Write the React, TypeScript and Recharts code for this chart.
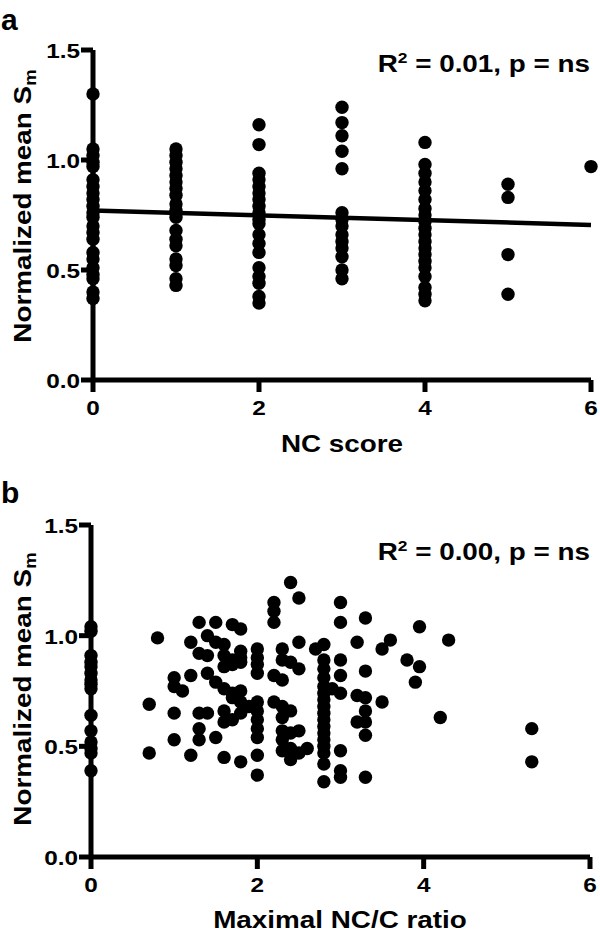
import React from 'react';
import { ScatterChart, Scatter, XAxis, YAxis, ReferenceLine } from 'recharts';

const K = 1.16;
const FONT = '"Liberation Sans", Arial, Helvetica, sans-serif';

// Panel a: NC score groups
const ncScores = [0, 1, 2, 3, 4, 5, 6];
const smNc0 = [1.30, 1.05, 1.02, 0.99, 0.97, 0.91, 0.88, 0.85, 0.82, 0.79, 0.76, 0.74, 0.70, 0.67, 0.64, 0.58, 0.55, 0.51, 0.48, 0.46, 0.40, 0.37];
const smNc1 = [1.05, 1.02, 0.99, 0.96, 0.93, 0.90, 0.87, 0.84, 0.80, 0.77, 0.74, 0.68, 0.64, 0.61, 0.55, 0.52, 0.46, 0.43];
const smNc2 = [1.16, 1.07, 0.94, 0.91, 0.88, 0.85, 0.82, 0.79, 0.76, 0.73, 0.71, 0.66, 0.62, 0.58, 0.51, 0.47, 0.44, 0.38, 0.35];
const smNc3 = [1.24, 1.17, 1.11, 1.04, 0.96, 0.76, 0.73, 0.70, 0.66, 0.63, 0.60, 0.56, 0.50, 0.46];
const smNc4 = [1.08, 0.98, 0.94, 0.90, 0.86, 0.82, 0.78, 0.75, 0.72, 0.69, 0.66, 0.63, 0.60, 0.57, 0.54, 0.51, 0.47, 0.42, 0.39, 0.36];
const smNc5 = [0.89, 0.83, 0.57, 0.39];
const smNc6 = [0.97];
const smByNcScore = [smNc0, smNc1, smNc2, smNc3, smNc4, smNc5, smNc6];
const fitA = [{ x: 0, y: 0.77 }, { x: 6, y: 0.705 }];

// Panel b: maximal NC/C ratio groups [ratio, Sm values]
const ratioGroups: [number, number[]][] = [
  [0, [1.04, 1.02, 0.91, 0.88, 0.86, 0.83, 0.80, 0.78, 0.76, 0.64, 0.57, 0.52, 0.49, 0.47, 0.39]],
  [0.7, [0.69, 0.47]],
  [0.8, [0.99]],
  [1.0, [0.81, 0.77, 0.65, 0.53]],
  [1.1, [0.75]],
  [1.2, [0.97, 0.82, 0.46]],
  [1.3, [1.06, 0.92, 0.65, 0.58, 0.53]],
  [1.4, [1.00, 0.91, 0.83, 0.65]],
  [1.5, [1.06, 0.97, 0.79, 0.54]],
  [1.6, [0.96, 0.91, 0.86, 0.76, 0.66, 0.61, 0.45]],
  [1.7, [1.05, 0.89, 0.87, 0.74, 0.72, 0.62]],
  [1.8, [1.03, 0.93, 0.90, 0.88, 0.75, 0.70, 0.65, 0.43]],
  [1.9, [0.68]],
  [2.0, [0.94, 0.90, 0.87, 0.83, 0.70, 0.66, 0.62, 0.58, 0.54, 0.46, 0.37]],
  [2.2, [1.15, 1.11, 1.06, 0.82, 0.70]],
  [2.3, [0.94, 0.89, 0.80, 0.68, 0.63, 0.57, 0.53, 0.48]],
  [2.4, [1.24, 0.88, 0.66, 0.56, 0.49, 0.44]],
  [2.5, [1.17, 0.97, 0.85, 0.57, 0.47]],
  [2.6, [0.49]],
  [2.7, [0.94]],
  [2.8, [0.96, 0.89, 0.85, 0.81, 0.77, 0.74, 0.71, 0.68, 0.65, 0.62, 0.59, 0.56, 0.53, 0.50, 0.47, 0.42, 0.34]],
  [2.9, [0.76]],
  [3.0, [1.15, 1.06, 0.89, 0.82, 0.74, 0.48, 0.39, 0.36]],
  [3.2, [0.97, 0.73, 0.61]],
  [3.3, [1.08, 0.84, 0.72, 0.66, 0.61, 0.55, 0.36]],
  [3.5, [0.94, 0.70]],
  [3.6, [0.98]],
  [3.8, [0.89]],
  [3.9, [0.79]],
  [3.95, [1.04, 0.86]],
  [4.2, [0.63]],
  [4.3, [0.98]],
  [5.3, [0.58, 0.43]],
];

const xTicks = [0, 2, 4, 6];
const yTicks = [0, 0.5, 1.0, 1.5];

const pointsA = ncScores.flatMap((s, i) => smByNcScore[i].map((v) => ({ x: s, y: v })));
const pointsB = ratioGroups.flatMap(([r, vals]) => vals.map((v) => ({ x: r, y: v })));

const Dot = (props: any) => <circle cx={props.cx} cy={props.cy} r={6.7} fill="#000" />;

const XTick = ({ x, y, payload }: any) => (
  <text transform={`translate(${x},${y + 23}) scale(${K},1)`} textAnchor="middle" fontFamily={FONT} fontWeight="bold" fontSize={21} fill="#000">
    {payload.value}
  </text>
);

const YTick = ({ x, y, payload }: any) => (
  <text transform={`translate(${x},${y + 8}) scale(${K},1)`} textAnchor="end" fontFamily={FONT} fontWeight="bold" fontSize={21} fill="#000">
    {Number(payload.value).toFixed(1)}
  </text>
);

const txt = { fontFamily: FONT, fontWeight: 'bold' as const, fill: '#000' };

const PanelTexts = ({ letter, letterY, titleY, annY, r2 }: any) => (
  <g>
    <text x={1} y={letterY} fontSize={30} {...txt}>{letter}</text>
    <text transform={`translate(31,${titleY}) rotate(-90) scale(${K},1)`} textAnchor="middle" fontSize={24} {...txt}>
      {'Normalized mean S'}
      <tspan dy={5} fontSize={16}>m</tspan>
    </text>
    <text transform={`translate(590,${annY}) scale(${K},1)`} textAnchor="end" fontSize={24} {...txt}>
      {'R'}
      <tspan dy={-9} fontSize={15}>2</tspan>
      <tspan dy={9}>{` = ${r2}, p = ns`}</tspan>
    </text>
  </g>
);

const axisCommon = {
  stroke: '#000',
  axisLine: { stroke: '#000', strokeWidth: 5 },
  tickLine: { stroke: '#000', strokeWidth: 5 },
  tickSize: 12,
};

export default function App() {
  return (
    <div style={{ position: 'absolute', left: 0, top: 0, width: 600, height: 937, background: '#fff' }}>
      <div style={{ position: 'absolute', left: 0, top: 0 }}>
        <ScatterChart width={600} height={470} margin={{ top: 50, right: 9, bottom: 60, left: 0 }}>
          <XAxis
            type="number"
            dataKey="x"
            domain={[0, 6]}
            ticks={xTicks}
            height={30}
            tickMargin={0}
            tick={<XTick />}
            {...axisCommon}
            label={{ content: () => (
              <text transform={`translate(342,452) scale(${K},1)`} textAnchor="middle" fontSize={24} {...txt}>NC score</text>
            ) }}
          />
          <YAxis
            type="number"
            dataKey="y"
            domain={[0, 1.5]}
            ticks={yTicks}
            width={93}
            tickMargin={1}
            tick={<YTick />}
            {...axisCommon}
            label={{ content: () => <PanelTexts letter="a" letterY={30} titleY={206} annY={72} r2="0.01" /> }}
          />
          <ReferenceLine segment={fitA} stroke="#000" strokeWidth={4.5} ifOverflow="visible" />
          <Scatter data={pointsA} shape={<Dot />} isAnimationActive={false} />
        </ScatterChart>
      </div>
      <div style={{ position: 'absolute', left: 0, top: 470 }}>
        <ScatterChart width={600} height={467} margin={{ top: 55, right: 10, bottom: 50, left: 0 }}>
          <XAxis
            type="number"
            dataKey="x"
            domain={[0, 6]}
            ticks={xTicks}
            height={30}
            tickMargin={0}
            tick={<XTick />}
            {...axisCommon}
            label={{ content: () => (
              <text transform={`translate(340,458) scale(${K},1)`} textAnchor="middle" fontSize={24} {...txt}>Maximal NC/C ratio</text>
            ) }}
          />
          <YAxis
            type="number"
            dataKey="y"
            domain={[0, 1.5]}
            ticks={yTicks}
            width={91}
            tickMargin={1}
            tick={<YTick />}
            {...axisCommon}
            label={{ content: () => <PanelTexts letter="b" letterY={33} titleY={219} annY={90} r2="0.00" /> }}
          />
          <Scatter data={pointsB} shape={<Dot />} isAnimationActive={false} />
        </ScatterChart>
      </div>
    </div>
  );
}
